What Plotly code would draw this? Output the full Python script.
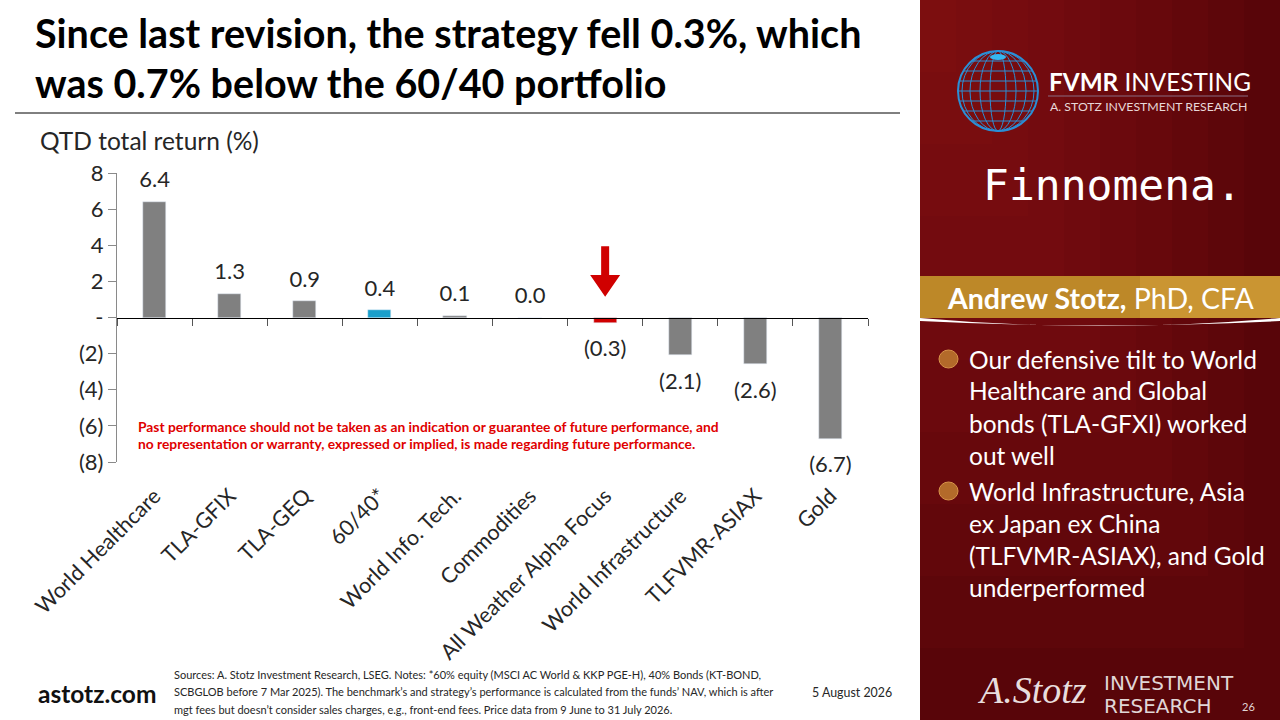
import math
import plotly.graph_objects as go

# QTD total return (%) by strategy / asset
categories = ["World Healthcare", "TLA-GFIX", "TLA-GEQ", "60/40*", "World Info. Tech.",
              "Commodities", "All Weather Alpha Focus", "World Infrastructure",
              "TLFVMR-ASIAX", "Gold"]
returns = [6.4, 1.3, 0.9, 0.4, 0.1, 0.0, -0.3, -2.1, -2.6, -6.7]
highlight = {"60/40*": "#1a9fcb", "All Weather Alpha Focus": "#d00000"}

y_ticks = [8, 6, 4, 2, 0, -2, -4, -6, -8]

bullets = [
    ["Our defensive tilt to World", "Healthcare and Global",
     "bonds (TLA-GFXI) worked", "out well"],
    ["World Infrastructure, Asia", "ex Japan ex China",
     "(TLFVMR-ASIAX), and Gold", "underperformed"],
]

sources = [
    "Sources: A. Stotz Investment Research, LSEG. Notes: *60% equity (MSCI AC World & KKP PGE-H), 40% Bonds (KT-BOND,",
    "SCBGLOB before 7 Mar 2025). The benchmark’s and strategy’s performance is calculated from the funds’ NAV, which is after",
    "mgt fees but doesn’t consider sales charges, e.g., front-end fees. Price data from 9 June to 31 July 2026.",
]

W, H = 1280, 720
FONT = "Lato"


def px(x):
    return x / W


def py(y):
    return 1 - y / H


def fmt(v):
    if v < 0:
        return f"({abs(v):.1f})"
    return f"{v:.1f}"


def fmt_tick(v):
    if v == 0:
        return "-"
    if v < 0:
        return f"({abs(v)})"
    return str(v)


def label(x, y, text, size, color="#262626", anchor="left", family=FONT, **kw):
    return dict(x=px(x), y=py(y), xref="paper", yref="paper", xanchor=anchor,
                yanchor="middle", showarrow=False, align="left", text=text,
                font=dict(family=family, size=size, color=color, **kw))


colors = [highlight.get(c, "#808080") for c in categories]

fig = go.Figure()
fig.add_bar(x=categories, y=returns, marker_color=colors, width=0.31,
            hoverinfo="skip", showlegend=False)
# value labels; the invisible markers push the text away from the bar ends
fig.add_scatter(x=categories, y=returns, mode="markers+text", xaxis="x2",
                text=[fmt(v) for v in returns],
                textposition=["top center" if v >= 0 else "bottom center" for v in returns],
                marker=dict(size=[13 if v >= 0 else 25 for v in returns], opacity=0),
                textfont=dict(family=FONT, size=22, color="#262626"),
                cliponaxis=False, hoverinfo="skip", showlegend=False)

dom = [px(117), px(868)]
fig.update_layout(
    width=W, height=H,
    margin=dict(l=0, r=0, t=0, b=0, autoexpand=False),
    paper_bgcolor="white", plot_bgcolor="white",
    font=dict(family=FONT, color="#262626"),
    showlegend=False,
    bargap=0,
    xaxis=dict(domain=dom, type="category", categoryarray=categories,
               range=[-0.5, len(categories) - 0.5], automargin=False,
               tickangle=-45, tickfont=dict(size=21.5, color="#262626"),
               ticks="outside", ticklen=12, tickcolor="rgba(0,0,0,0)",
               showgrid=False, showline=False, zeroline=False),
    xaxis2=dict(overlaying="x", anchor="free", position=py(318), side="bottom",
                type="category", categoryarray=categories, automargin=False,
                range=[-0.5, len(categories) - 0.5],
                showticklabels=False, showgrid=False, showline=True,
                linecolor="#000000", linewidth=1.2, ticks="outside",
                tickson="boundaries", ticklen=7, tickcolor="#555555"),
    yaxis=dict(domain=[py(462), py(173)], range=[-8, 8], automargin=False,
               tickvals=y_ticks, ticktext=[fmt_tick(v) for v in y_ticks],
               tickfont=dict(size=22, color="#262626"),
               showgrid=False, zeroline=False, showline=True,
               linecolor="#8a8a8a", linewidth=1.2, ticks="outside",
               ticklen=8, tickcolor="#8a8a8a"),
)

shapes = []
ann = []

# red arrow over the strategy bar
i = categories.index("All Weather Alpha Focus")
n = len(categories)
cx = (i + 0.5) / n
sw, hw = 4 / 751, 15 / 751
arrow = (f"M {cx - sw},3.95 L {cx + sw},3.95 L {cx + sw},2.35 L {cx + hw},2.35 "
         f"L {cx},1.15 L {cx - hw},2.35 L {cx - sw},2.35 Z")
shapes.append(dict(type="path", xref="x domain", yref="y", path=arrow,
                   fillcolor="#d00000", line=dict(width=0)))

# title + rule
ann.append(label(33, 33, "<b>Since last revision, the strategy fell 0.3%, which</b>", 39.5, "#000000"))
ann.append(label(33, 82, "<b>was 0.7% below the 60/40 portfolio</b>", 39.5, "#000000"))
shapes.append(dict(type="line", xref="paper", yref="paper", x0=px(15), x1=px(900),
                   y0=py(113), y1=py(113), line=dict(color="#000000", width=1)))

ann.append(label(38, 141, "QTD total return (%)", 24.5))

ann.append(label(136, 426, "<b>Past performance should not be taken as an indication or guarantee of future performance, and</b>",
                 13.8, "#e00000"))
ann.append(label(136, 443, "<b>no representation or warranty, expressed or implied, is made regarding future performance.</b>",
                 13.8, "#e00000"))

# footer
ann.append(label(36, 693, "<b>astotz.com</b>", 24.5, "#111111"))
for k, line in enumerate(sources):
    ann.append(label(172, 674 + 17.5 * k, line, 11))
ann.append(label(810, 692, "5 August 2026", 12.4))

# right panel background, brighter towards the top-left
shapes.append(dict(type="rect", xref="paper", yref="paper", x0=px(920), x1=1,
                   y0=0, y1=1, fillcolor="#520408", line=dict(width=0), layer="below"))
for k in range(10):
    f = (k + 1) / 10
    shapes.append(dict(type="rect", xref="paper", yref="paper", x0=px(920),
                       x1=px(920 + 360 * f), y0=py(720 * f), y1=1,
                       fillcolor="rgba(165,25,35,0.07)", line=dict(width=0), layer="below"))

# globe logo
gx, gy, r = 998, 91, 40
shapes.append(dict(type="circle", xref="paper", yref="paper",
                   x0=px(gx - r), x1=px(gx + r), y0=py(gy + r), y1=py(gy - r),
                   line=dict(color="#2a8fd6", width=2)))
for k in [0.2, 0.45, 0.7, 0.9]:
    shapes.append(dict(type="circle", xref="paper", yref="paper",
                       x0=px(gx - r * k), x1=px(gx + r * k), y0=py(gy + r), y1=py(gy - r),
                       line=dict(color="#2a8fd6", width=1)))
for d in [-30, -20, -10, 0, 10, 20, 30]:
    half = math.sqrt(r * r - d * d)
    shapes.append(dict(type="line", xref="paper", yref="paper",
                       x0=px(gx - half), x1=px(gx + half), y0=py(gy + d), y1=py(gy + d),
                       line=dict(color="#2a8fd6", width=1)))
shapes.append(dict(type="circle", xref="paper", yref="paper",
                   x0=px(gx - 8), x1=px(gx + 8), y0=py(gy - 31), y1=py(gy - 37),
                   fillcolor="#35b6f0", line=dict(width=0)))

ann.append(label(1047, 81, "<b>FVMR</b> INVESTING", 24.3, "#ffffff"))
shapes.append(dict(type="line", xref="paper", yref="paper", x0=px(1048), x1=px(1248),
                   y0=py(96), y1=py(96), line=dict(color="#8a6a80", width=1)))
ann.append(label(1048, 106, "A. STOTZ INVESTMENT RESEARCH", 12.3, "#e8d8d8"))
ann.append(label(981, 185, "Finnomena.", 43, "#ffffff", family="DejaVu Sans Mono"))

# name banner
shapes.append(dict(type="rect", xref="paper", yref="paper", x0=px(920), x1=1,
                   y0=py(318), y1=py(276), fillcolor="#bd8828", line=dict(width=0)))
shapes.append(dict(type="rect", xref="paper", yref="paper", x0=px(1140), x1=1,
                   y0=py(318), y1=py(276), fillcolor="rgba(225,175,70,0.35)", line=dict(width=0)))
shapes.append(dict(type="path", xref="paper", yref="paper",
                   path=f"M {px(920)},{py(318)} Q {px(1100)},{py(334)} {px(1280)},{py(318)} "
                        f"L {px(1280)},{py(321)} Q {px(1100)},{py(330)} {px(920)},{py(321)} Z",
                   fillcolor="#ffffff", line=dict(width=0)))
ann.append(label(1101, 298, "<b>Andrew Stotz,</b> PhD, CFA", 28.5, "#ffffff", anchor="center"))

# bullets
y0 = 359
for lines in bullets:
    shapes.append(dict(type="circle", xref="paper", yref="paper",
                       x0=px(939), x1=px(958), y0=py(y0 + 9), y1=py(y0 - 9),
                       fillcolor="#b36a2a", line=dict(color="#d9944a", width=1)))
    for k, line in enumerate(lines):
        ann.append(label(967, y0 + 32 * k, line, 24.5, "#ffffff"))
    y0 += 32 * len(lines) + 4

# bottom-right brand
ann.append(label(1032, 690, "A.Stotz", 38, "#e8dede", anchor="center",
                 family="Liberation Serif", style="italic"))
ann.append(label(1102, 683, "INVESTMENT", 20, "#e0d6d6", family="DejaVu Sans"))
ann.append(label(1102, 706, "RESEARCH", 20, "#e0d6d6", family="DejaVu Sans"))
ann.append(label(1248, 706, "26", 11, "#e0d6d6", anchor="center"))

fig.update_layout(shapes=shapes, annotations=ann)
fig.write_html("out.html", config={"displayModeBar": False},
               post_script="document.body.style.margin='0px';")
